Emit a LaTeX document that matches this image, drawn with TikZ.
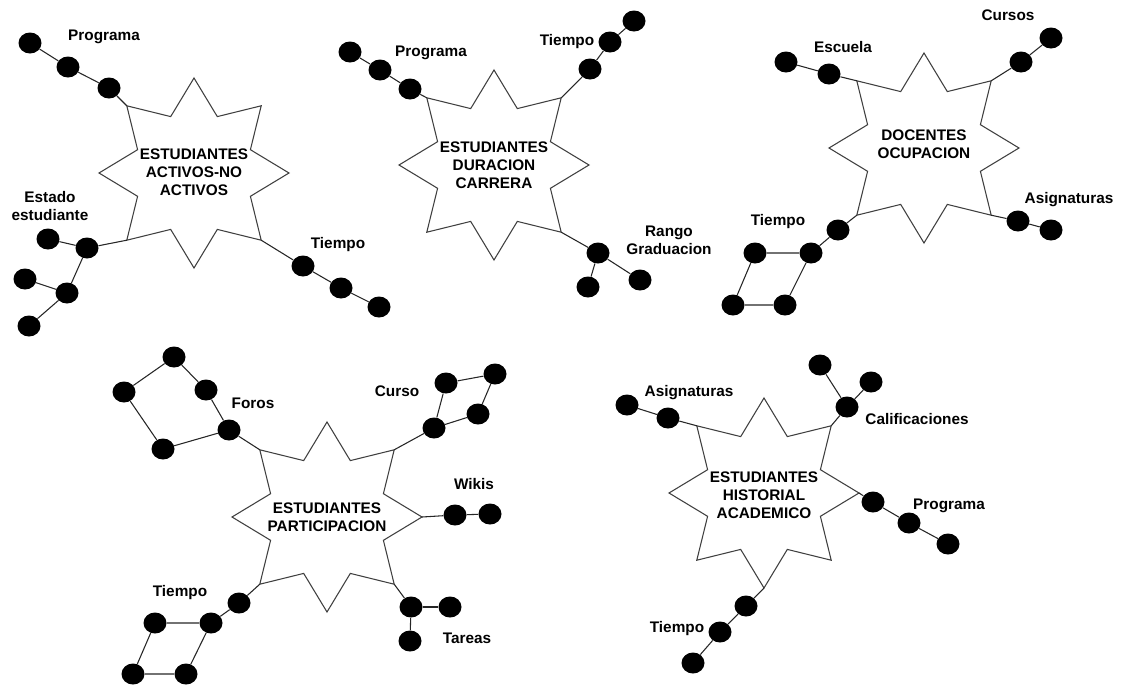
\documentclass[tikz,border=0pt]{standalone}
\usepackage{fontspec}
\setmainfont{Liberation Sans}
\usetikzlibrary{shapes.geometric}

\tikzset{
  starline/.style={draw=black!75, line width=0.8pt, line join=miter},
  link/.style={draw=black!85, line width=0.8pt},
  dot/.style={ellipse, fill=black, draw=none, minimum width=17.25pt, minimum height=15.75pt, inner sep=0pt},
  lbl/.style={font=\fontsize{11.5}{13.7}\selectfont\bfseries, inner sep=0pt, text height=8.2pt, text depth=0pt},
  lbltwo/.style={font=\fontsize{11.5}{13.7}\selectfont\bfseries, inner sep=0pt, align=center},
  startext/.style={font=\fontsize{11.5}{13.7}\selectfont\bfseries, inner sep=0pt, align=center},
  % eight-pointed star, outer radius 95, inner radius 61
  star8/.pic={
    \coordinate (-N)  at (0,-95);
    \coordinate (-NE) at (67.2,-67.2);
    \coordinate (-E)  at (95,0);
    \coordinate (-SE) at (67.2,67.2);
    \coordinate (-S)  at (0,95);
    \coordinate (-SW) at (-67.2,67.2);
    \coordinate (-W)  at (-95,0);
    \coordinate (-NW) at (-67.2,-67.2);
    \draw[starline] (-N) -- (23.3,-56.4) -- (-NE) -- (56.4,-23.3) -- (-E)
      -- (56.4,23.3) -- (-SE) -- (23.3,56.4) -- (-S) -- (-23.3,56.4)
      -- (-SW) -- (-56.4,23.3) -- (-W) -- (-56.4,-23.3) -- (-NW)
      -- (-23.3,-56.4) -- cycle;
  }
}

\begin{document}
\begin{tikzpicture}[x=0.75pt, y=-0.75pt]
\useasboundingbox (0,0) rectangle (1122,686);

% ---------- Estudiantes activos / no activos ----------
\pic (s1) at (194,173) {star8};
\node[startext] (t1) at (194,172) {ESTUDIANTES\\ACTIVOS-NO\\ACTIVOS};
\node[dot] (a1) at (30,43) {};
\node[dot] (a2) at (68,67) {};
\node[dot] (a3) at (109,88) {};
\draw[link] (a1) -- (a2) -- (a3) -- (s1-NW);
\node[lbl] (la) at (104,35) {Programa};
\node[dot] (b1) at (48,239) {};
\node[dot] (b2) at (87,248) {};
\node[dot] (b3) at (25,279) {};
\node[dot] (b4) at (67,293) {};
\node[dot] (b5) at (29,326) {};
\draw[link] (b1) -- (b2) -- (s1-SW);
\draw[link] (b2) -- (b4);
\draw[link] (b3) -- (b4) -- (b5);
\node[lbltwo] (lb) at (50,206) {Estado\\estudiante};
\node[dot] (c1) at (303,266) {};
\node[dot] (c2) at (341,288) {};
\node[dot] (c3) at (379,307) {};
\draw[link] (s1-SE) -- (c1) -- (c2) -- (c3);
\node[lbl] (lc) at (338,243) {Tiempo};

% ---------- Estudiantes duracion carrera ----------
\pic (s2) at (494,165) {star8};
\node[startext] (t2) at (494,165) {ESTUDIANTES\\DURACION\\CARRERA};
\node[dot] (d1) at (350,52) {};
\node[dot] (d2) at (380,70) {};
\node[dot] (d3) at (410,89) {};
\draw[link] (d1) -- (d2) -- (d3) -- (s2-NW);
\node[lbl] (ld) at (431,51) {Programa};
\node[dot] (e1) at (590,69) {};
\node[dot] (e2) at (610,42) {};
\node[dot] (e3) at (634,21) {};
\draw[link] (s2-NE) -- (e1) -- (e2) -- (e3);
\node[lbl] (le) at (567,40) {Tiempo};
\node[dot] (f1) at (598,253) {};
\node[dot] (f2) at (588,287) {};
\node[dot] (f3) at (640,280) {};
\draw[link] (s2-SE) -- (f1);
\draw[link] (f1) -- (f2);
\draw[link] (f1) -- (f3);
\node[lbltwo] (lf) at (669,240) {Rango\\Graduacion};

% ---------- Docentes ocupacion ----------
\pic (s3) at (924,148) {star8};
\node[startext] (t3) at (924,144) {DOCENTES\\OCUPACION};
\node[dot] (g1) at (786,62) {};
\node[dot] (g2) at (829,74) {};
\draw[link] (g1) -- (g2) -- (s3-NW);
\node[lbl] (lg) at (843,47) {Escuela};
\node[dot] (h1) at (1021,62) {};
\node[dot] (h2) at (1051,38) {};
\draw[link] (s3-NE) -- (h1) -- (h2);
\node[lbl] (lh) at (1008,15) {Cursos};
\node[dot] (i1) at (1018,221) {};
\node[dot] (i2) at (1051,230) {};
\draw[link] (s3-SE) -- (i1) -- (i2);
\node[lbl] (li) at (1069,198) {Asignaturas};
\node[dot] (j1) at (838,230) {};
\node[dot] (j2) at (811,253) {};
\node[dot] (j3) at (755,253) {};
\node[dot] (j4) at (733,305) {};
\node[dot] (j5) at (785,305) {};
\draw[link] (s3-SW) -- (j1) -- (j2) -- (j3) -- (j4) -- (j5) -- (j2);
\node[lbl] (lj) at (778,220) {Tiempo};

% ---------- Estudiantes participacion ----------
\pic (s4) at (327,517) {star8};
\node[startext] (t4) at (327,517.5) {ESTUDIANTES\\PARTICIPACION};
\node[dot] (k1) at (229,430) {};
\node[dot] (k2) at (163,449) {};
\node[dot] (k3) at (124,392) {};
\node[dot] (k4) at (174,357) {};
\node[dot] (k5) at (206,390) {};
\draw[link] (s4-NW) -- (k1) -- (k2) -- (k3) -- (k4) -- (k5) -- (k1);
\node[lbl] (lk) at (253,403) {Foros};
\node[dot] (l1) at (434,428) {};
\node[dot] (l2) at (446,383) {};
\node[dot] (l3) at (495,374) {};
\node[dot] (l4) at (478,414) {};
\draw[link] (s4-NE) -- (l1) -- (l2) -- (l3) -- (l4) -- (l1);
\node[lbl] (ll) at (397,391) {Curso};
\node[dot] (m1) at (455,515) {};
\node[dot] (m2) at (490,514) {};
\draw[link] (s4-E) -- (m1) -- (m2);
\node[lbl] (lm) at (474,484) {Wikis};
\node[dot] (n1) at (411,607) {};
\node[dot] (n2) at (450,607) {};
\node[dot] (n3) at (410,641) {};
\draw[link] (s4-SE) -- (n1);
\draw[link] (n1) -- (n2);
\draw[link] (n1) -- (n3);
\node[lbl] (ln) at (467,638) {Tareas};
\node[dot] (o1) at (239,603) {};
\node[dot] (o2) at (211,623) {};
\node[dot] (o3) at (155,623) {};
\node[dot] (o4) at (133,674) {};
\node[dot] (o5) at (186,674) {};
\draw[link] (s4-SW) -- (o1) -- (o2) -- (o3) -- (o4) -- (o5) -- (o2);
\node[lbl] (lo) at (180,591) {Tiempo};

% ---------- Estudiantes historial academico ----------
\pic (s5) at (764,493) {star8};
\node[startext] (t5) at (764,495) {ESTUDIANTES\\HISTORIAL\\ACADEMICO};
\node[dot] (p1) at (627,405) {};
\node[dot] (p2) at (668,418) {};
\draw[link] (p1) -- (p2) -- (s5-NW);
\node[lbl] (lp) at (689,391) {Asignaturas};
\node[dot] (q1) at (847,407) {};
\node[dot] (q2) at (820,365) {};
\node[dot] (q3) at (871,382) {};
\draw[link] (s5-NE) -- (q1);
\draw[link] (q1) -- (q2);
\draw[link] (q1) -- (q3);
\node[lbl] (lq) at (917,419) {Calificaciones};
\node[dot] (r1) at (873,502) {};
\node[dot] (r2) at (909,523) {};
\node[dot] (r3) at (948,544) {};
\draw[link] (s5-E) -- (r1) -- (r2) -- (r3);
\node[lbl] (lr) at (949,504) {Programa};
\node[dot] (u1) at (746,606) {};
\node[dot] (u2) at (720,632) {};
\node[dot] (u3) at (693,663) {};
\draw[link] (s5-S) -- (u1) -- (u2) -- (u3);
\node[lbl] (lu) at (677,627) {Tiempo};
\end{tikzpicture}
\end{document}
